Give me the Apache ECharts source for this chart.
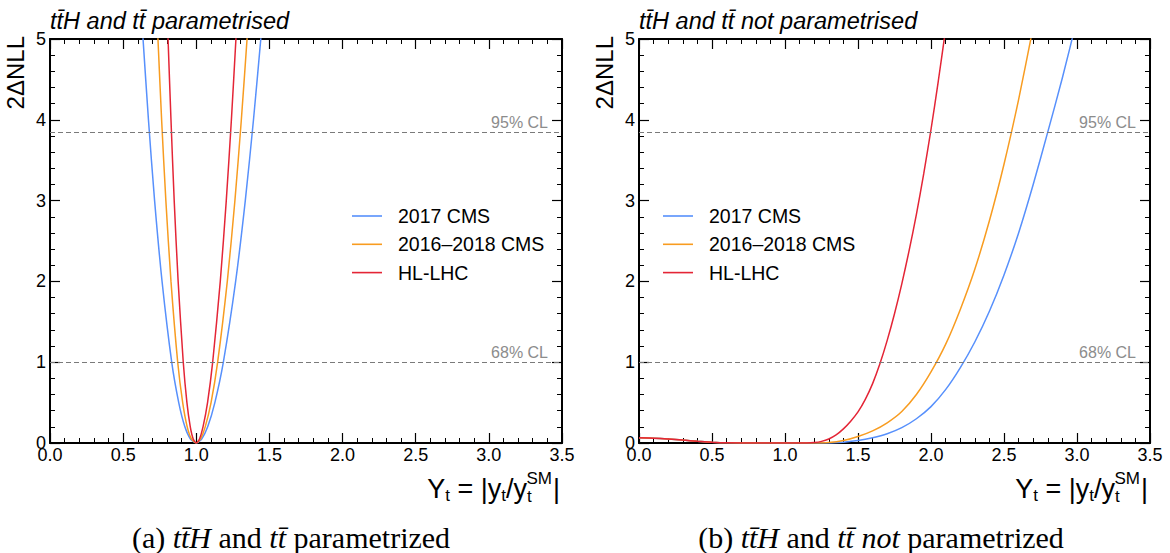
<!DOCTYPE html>
<html>
<head>
<meta charset="utf-8">
<script src="https://cdn.jsdelivr.net/npm/echarts@6/dist/echarts.min.js"></script>
<style>
  html, body { margin: 0; padding: 0; background: #fff; }
  #chart { width: 1170px; height: 553px; }
</style>
</head>
<body>
<div id="chart"></div>
<script>
// Scan of 2ΔNLL versus the top Yukawa modifier Y_t, two fit set-ups side by side.
const seriesNames = ['2017 CMS', '2016–2018 CMS', 'HL-LHC'];
const seriesColors = ['#5790fc', '#f89c20', '#e42536'];
const xTickValues = [0, 0.5, 1.0, 1.5, 2.0, 2.5, 3.0, 3.5];
const yTickValues = [0, 1, 2, 3, 4, 5];
const clLevels = [1, 3.84];
const clLabels = ['68% CL', '95% CL'];

// (a) ttH and tt parametrised: [Y_t, 2ΔNLL]
const paramCMS2017 = [[0.625, 5.3], [0.636, 5], [0.673, 4], [0.715, 3], [0.766, 2], [0.832, 1], [0.880, 0.5], [0.922, 0.2], [0.960, 0.05], [1.0, 0], [1.037, 0.05], [1.078, 0.2], [1.127, 0.5], [1.185, 1], [1.269, 2], [1.335, 3], [1.391, 4], [1.441, 5], [1.455, 5.3]];
const paramCMS1618 = [[0.731, 5.3], [0.738, 5], [0.763, 4], [0.792, 3], [0.827, 2], [0.873, 1], [0.907, 0.5], [0.938, 0.2], [0.967, 0.05], [1.0, 0], [1.029, 0.05], [1.061, 0.2], [1.101, 0.5], [1.146, 1], [1.212, 2], [1.264, 3], [1.308, 4], [1.347, 5], [1.358, 5.3]];
const paramHLLHC = [[0.802, 5.3], [0.807, 5], [0.827, 4], [0.849, 3], [0.876, 2], [0.911, 1], [0.936, 0.5], [0.959, 0.2], [0.979, 0.05], [1.0, 0], [1.022, 0.05], [1.046, 0.2], [1.077, 0.5], [1.112, 1], [1.164, 2], [1.205, 3], [1.240, 4], [1.271, 5], [1.280, 5.3]];

// (b) ttH and tt not parametrised: [Y_t, 2ΔNLL]
const freeCMS2017 = [[0, 0.065], [0.1, 0.06], [0.2, 0.05], [0.3, 0.036], [0.4, 0.022], [0.5, 0.01], [0.6, 0.002], [0.7, 0], [1.0, 0], [1.3, 0], [1.4, 0.01], [1.5, 0.03], [1.6, 0.065], [1.7, 0.115], [1.8, 0.19], [1.9, 0.3], [2.0, 0.45], [2.1, 0.66], [2.2, 0.93], [2.3, 1.25], [2.4, 1.63], [2.5, 2.08], [2.6, 2.6], [2.7, 3.2], [2.8, 3.85], [2.9, 4.52], [3.0, 5.25], [3.05, 5.65]];
const freeCMS1618 = [[0, 0.065], [0.1, 0.06], [0.2, 0.05], [0.3, 0.036], [0.4, 0.022], [0.5, 0.01], [0.6, 0.002], [0.7, 0], [1.0, 0], [1.2, 0], [1.3, 0.005], [1.4, 0.03], [1.5, 0.08], [1.6, 0.15], [1.7, 0.25], [1.8, 0.39], [1.9, 0.6], [2.0, 0.88], [2.1, 1.22], [2.2, 1.65], [2.3, 2.15], [2.4, 2.75], [2.5, 3.45], [2.6, 4.25], [2.7, 5.15]];
const freeHLLHC = [[0, 0.065], [0.1, 0.06], [0.2, 0.05], [0.3, 0.036], [0.4, 0.022], [0.5, 0.01], [0.6, 0.002], [0.7, 0], [1.0, 0], [1.15, 0], [1.2, 0.005], [1.25, 0.02], [1.3, 0.05], [1.35, 0.1], [1.4, 0.175], [1.45, 0.27], [1.5, 0.385], [1.55, 0.54], [1.6, 0.735], [1.65, 0.98], [1.7, 1.27], [1.75, 1.6], [1.8, 1.97], [1.85, 2.38], [1.9, 2.83], [1.95, 3.33], [2.0, 3.88], [2.05, 4.48], [2.1, 5.12], [2.15, 5.8]];

const panelTitles = ['tt\u0304H and tt\u0304 parametrised', 'tt\u0304H and tt\u0304 not parametrised'];
const captionA = '{r|(a) }{i|tt\u0304H}{r| and }{i|tt\u0304}{r| parametrized}';
const captionB = '{r|(b) }{i|tt\u0304H}{r| and }{i|tt\u0304 not}{r| parametrized}';

const SANS = 'Liberation Sans, Arial, sans-serif';
const SERIF = 'Liberation Serif, Times New Roman, serif';

const grids = [
  { left: 50, right: 608, top: 39, bottom: 110 },
  { left: 639, right: 20, top: 39, bottom: 110 }
];

function xAxisPair(gridIndex) {
  const common = {
    type: 'value', gridIndex, min: 0, max: 3.5, interval: 0.5,
    axisLine: { onZero: false, lineStyle: { color: '#000', width: 2 } },
    axisTick: { inside: true, length: 10, lineStyle: { color: '#000', width: 1.2 } },
    minorTick: { show: true, splitNumber: 5, length: 5, lineStyle: { color: '#000', width: 1 } },
    splitLine: { show: false }
  };
  return [
    Object.assign({}, common, {
      position: 'bottom',
      axisLabel: { margin: 3, color: '#000', fontSize: 18, fontFamily: SANS,
        formatter: v => v.toFixed(1) }
    }),
    Object.assign({}, common, { position: 'top', axisLabel: { show: false } })
  ];
}

function yAxisPair(gridIndex) {
  const common = {
    type: 'value', gridIndex, min: 0, max: 5, interval: 1,
    axisLine: { onZero: false, lineStyle: { color: '#000', width: 2 } },
    axisTick: { inside: true, length: 10, lineStyle: { color: '#000', width: 1.2 } },
    minorTick: { show: true, splitNumber: 5, length: 5, lineStyle: { color: '#000', width: 1 } },
    splitLine: { show: false }
  };
  return [
    Object.assign({}, common, {
      position: 'left',
      axisLabel: { margin: 4, color: '#000', fontSize: 18, fontFamily: SANS }
    }),
    Object.assign({}, common, { position: 'right', axisLabel: { show: false } })
  ];
}

function clMarkLine() {
  return {
    silent: true,
    symbol: 'none',
    lineStyle: { color: '#7a7a7a', width: 1.2, type: [5, 3] },
    label: {
      position: 'insideEndTop', color: '#8c8c8c', fontSize: 16, fontFamily: SANS,
      distance: [14, 2]
    },
    data: clLevels.map((v, i) => ({ yAxis: v, label: { formatter: clLabels[i] } }))
  };
}

function curve(name, color, data, axisIndex, withLines) {
  const s = {
    name, type: 'line', data,
    xAxisIndex: axisIndex * 2, yAxisIndex: axisIndex * 2,
    showSymbol: false, symbol: 'none',
    smooth: 0.25,
    clip: true,
    lineStyle: { color, width: 1.5 },
    itemStyle: { color },
    emphasis: { disabled: true }
  };
  if (withLines) s.markLine = clMarkLine();
  return s;
}

const panelData = [
  [paramCMS2017, paramCMS1618, paramHLLHC],
  [freeCMS2017, freeCMS1618, freeHLLHC]
];

const series = [];
panelData.forEach((sets, p) => {
  sets.forEach((d, i) => series.push(curve(seriesNames[i], seriesColors[i], d, p, i === 0)));
});

function legendAt(left) {
  return {
    data: seriesNames, left, top: 201, orient: 'vertical',
    icon: 'rect', itemWidth: 30, itemHeight: 1.6, itemGap: 8.3,
    selectedMode: false,
    textStyle: { color: '#000', fontSize: 19.5, fontFamily: SANS, lineHeight: 20,
      padding: [0, 0, 0, 11] }
  };
}

// Axis title Y_t = |y_t / y_t^SM| assembled from pieces, right-aligned at xr.
function xAxisTitle(xr) {
  return [
    { type: 'text', x: xr, y: 489, style: { text: '|', font: '27px ' + SANS, fill: '#000', align: 'right', verticalAlign: 'middle' } },
    { type: 'text', x: xr - 8, y: 478, style: { text: 'SM', font: '17px ' + SANS, fill: '#000', align: 'right', verticalAlign: 'middle' } },
    { type: 'text', x: xr - 33, y: 496, style: { text: 't', font: '17px ' + SANS, fill: '#000', align: 'left', verticalAlign: 'middle' } },
    { type: 'text', x: xr - 33, y: 489, style: {
        text: '{n|Y}{s|t}{n| = |y}{s|t}{n|/y}', align: 'right', verticalAlign: 'middle',
        rich: {
          n: { font: '27px ' + SANS, fill: '#000', lineHeight: 30, verticalAlign: 'middle' },
          s: { font: '17px ' + SANS, fill: '#000', lineHeight: 17, verticalAlign: 'bottom' }
        } } }
  ];
}

function yAxisTitle(x) {
  return { type: 'text', x, y: 36, rotation: Math.PI / 2,
    style: { text: '2ΔNLL', font: '24px ' + SANS, fill: '#000', align: 'right', verticalAlign: 'middle' } };
}

const captionRich = {
  r: { font: '30px ' + SERIF, fill: '#000' },
  i: { font: 'italic 30px ' + SERIF, fill: '#000' }
};

const graphics = [
  { type: 'text', x: 50, y: 21, style: { text: panelTitles[0], font: 'italic 23.5px ' + SANS, fill: '#000', align: 'left', verticalAlign: 'middle' } },
  { type: 'text', x: 639, y: 21, style: { text: panelTitles[1], font: 'italic 23.5px ' + SANS, fill: '#000', align: 'left', verticalAlign: 'middle' } },
  yAxisTitle(15), yAxisTitle(604),
  ...xAxisTitle(560), ...xAxisTitle(1148),
  { type: 'text', x: 291, y: 537, style: { text: captionA, align: 'center', verticalAlign: 'middle', rich: captionRich } },
  { type: 'text', x: 881, y: 537, style: { text: captionB, align: 'center', verticalAlign: 'middle', rich: captionRich } }
];

const chart = echarts.init(document.getElementById('chart'), null, { renderer: 'svg' });
chart.setOption({
  backgroundColor: '#fff',
  animation: false,
  grid: grids,
  xAxis: [...xAxisPair(0), ...xAxisPair(1)],
  yAxis: [...yAxisPair(0), ...yAxisPair(1)],
  legend: [legendAt(347), legendAt(658)],
  series,
  graphic: { elements: graphics }
});
</script>
</body>
</html>
